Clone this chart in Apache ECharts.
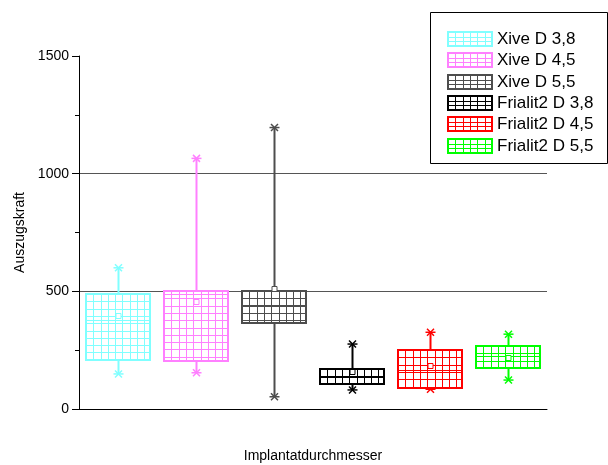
<!DOCTYPE html>
<html>
<head>
<meta charset="utf-8">
<script src="https://cdn.jsdelivr.net/npm/echarts@6/dist/echarts.min.js"></script>
<style>
  html, body { margin: 0; padding: 0; background: #fff; }
  #chart { width: 608px; height: 465px; }
</style>
</head>
<body>
<div id="chart"></div>
<script>
// Pull-out force per implant group (box plot statistics)
const categories = ['Xive D 3,8', 'Xive D 4,5', 'Xive D 5,5', 'Frialit2 D 3,8', 'Frialit2 D 4,5', 'Frialit2 D 5,5'];
const whiskerLow  = [149, 154, 52, 81, 84, 123];
const quartile1   = [208, 205, 366, 105, 90, 175];
const medians     = [380, 487, 442, 137, 166, 226];
const quartile3   = [487, 501, 502, 169, 250, 267];
const whiskerHigh = [600, 1065, 1196, 276, 326, 318];
const means       = [395, 453, 512, 158, 184, 218];
const colors = ['#80ffff', '#ff80ff', '#4d4d4d', '#000000', '#ff0000', '#00ff00'];
const yTickValues = [0, 500, 1000, 1500];

const FONT = '"Liberation Sans", Arial, sans-serif';
const HATCH = 7.3;

function hatchLines(left, top, right, bottom, color, stepX, stepY) {
  const out = [];
  for (let x = left + stepX; x < right - 1.5; x += stepX) {
    const xx = Math.round(x) + 0.5;
    out.push({ type: 'line', shape: { x1: xx, y1: top, x2: xx, y2: bottom },
      style: { stroke: color, lineWidth: 1 } });
  }
  for (let y = top + stepY; y < bottom - 1.5; y += stepY) {
    const yy = Math.round(y) + 0.5;
    out.push({ type: 'line', shape: { x1: left, y1: yy, x2: right, y2: yy },
      style: { stroke: color, lineWidth: 1 } });
  }
  return out;
}

function asterisk(x, y, color) {
  return {
    type: 'group',
    children: [
      { type: 'line', shape: { x1: x - 5, y1: y, x2: x + 5, y2: y }, style: { stroke: color, lineWidth: 1.5 } },
      { type: 'line', shape: { x1: x - 3.5, y1: y - 3.5, x2: x + 3.5, y2: y + 3.5 }, style: { stroke: color, lineWidth: 1.5 } },
      { type: 'line', shape: { x1: x - 3.5, y1: y + 3.5, x2: x + 3.5, y2: y - 3.5 }, style: { stroke: color, lineWidth: 1.5 } }
    ]
  };
}

function renderBox(params, api) {
  const i = api.value(0);
  const color = colors[i];
  const xc = api.coord([i, 0])[0];
  const bw = api.size([1, 0])[0] * 0.81;
  const left = Math.round(xc - bw / 2);
  const right = Math.round(xc + bw / 2);
  const cx = Math.round(xc) + 0.5;
  const yWLo = api.coord([i, api.value(1)])[1];
  const yQ1 = Math.round(api.coord([i, api.value(2)])[1]);
  const yMed = Math.round(api.coord([i, api.value(3)])[1]) + 0.5;
  const yQ3 = Math.round(api.coord([i, api.value(4)])[1]);
  const yWHi = api.coord([i, api.value(5)])[1];
  const yMean = api.coord([i, api.value(6)])[1];

  const children = [];
  // whiskers
  children.push({ type: 'line', shape: { x1: cx, y1: yQ3, x2: cx, y2: yWHi }, style: { stroke: color, lineWidth: 2 } });
  children.push({ type: 'line', shape: { x1: cx, y1: yQ1, x2: cx, y2: yWLo }, style: { stroke: color, lineWidth: 2 } });
  children.push(asterisk(cx, yWHi, color));
  children.push(asterisk(cx, yWLo, color));
  // box fill with grid hatch
  children.push({ type: 'rect', shape: { x: left, y: yQ3, width: right - left, height: yQ1 - yQ3 },
    style: { fill: '#fff' } });
  hatchLines(left, yQ3, right, yQ1, color, HATCH, HATCH).forEach(function (l) { children.push(l); });
  // median
  children.push({ type: 'line', shape: { x1: left, y1: yMed, x2: right, y2: yMed }, style: { stroke: color, lineWidth: 1 } });
  // box outline
  children.push({ type: 'rect', shape: { x: left, y: yQ3, width: right - left, height: yQ1 - yQ3 },
    style: { fill: null, stroke: color, lineWidth: 2 } });
  // mean marker
  children.push({ type: 'rect', shape: { x: cx - 2.5, y: Math.round(yMean) - 2.5, width: 5, height: 5 },
    style: { fill: '#fff', stroke: color, lineWidth: 1 } });
  return { type: 'group', children: children };
}

// legend drawn as a framed block of hatched swatches
const legendChildren = [
  { type: 'rect', shape: { x: 430.5, y: 12.5, width: 177, height: 151 },
    style: { fill: '#fff', stroke: '#000', lineWidth: 1 } }
];
categories.forEach(function (name, i) {
  const top = 32 + i * 21.3;
  const sx = 448, sw = 44, sh = 14;
  const t = Math.round(top);
  legendChildren.push({ type: 'rect', shape: { x: sx, y: t, width: sw, height: sh }, style: { fill: '#fff' } });
  hatchLines(sx, t, sx + sw, t + sh, colors[i], HATCH, sh / 3).forEach(function (l) { legendChildren.push(l); });
  legendChildren.push({ type: 'rect', shape: { x: sx, y: t, width: sw, height: sh },
    style: { fill: null, stroke: colors[i], lineWidth: 2 } });
  legendChildren.push({ type: 'text', x: 497, y: t + sh / 2 + 0.5,
    style: { text: name, font: '17px ' + FONT, fill: '#000', verticalAlign: 'middle', align: 'left' } });
});

const chart = echarts.init(document.getElementById('chart'), null, { renderer: 'canvas' });
chart.setOption({
  animation: false,
  backgroundColor: '#fff',
  grid: { left: 79, right: 61, top: 56, bottom: 56, containLabel: false, outerBoundsMode: 'none' },
  xAxis: {
    type: 'category',
    data: categories,
    boundaryGap: true,
    name: 'Implantatdurchmesser',
    nameLocation: 'middle',
    nameGap: 47,
    nameTextStyle: { fontFamily: FONT, fontSize: 14, color: '#000', verticalAlign: 'middle' },
    axisLine: { lineStyle: { color: '#000', width: 1 } },
    axisTick: { alignWithLabel: true, length: 7, lineStyle: { color: '#000' } },
    axisLabel: { show: false },
    splitLine: { show: false }
  },
  yAxis: {
    type: 'value',
    min: yTickValues[0],
    max: yTickValues[yTickValues.length - 1],
    interval: 500,
    name: 'Auszugskraft',
    nameLocation: 'middle',
    nameGap: 50,
    nameTextStyle: { fontFamily: FONT, fontSize: 14, color: '#000' },
    axisLine: { show: true, lineStyle: { color: '#000', width: 1 } },
    axisTick: { show: true, length: 7, lineStyle: { color: '#000' } },
    minorTick: { show: true, splitNumber: 2, length: 4, lineStyle: { color: '#000' } },
    axisLabel: { fontFamily: FONT, fontSize: 14, color: '#000', margin: 10,
      formatter: function (v) { return String(v); } },
    splitLine: { show: true, lineStyle: { color: ['transparent', '#555', '#555', 'transparent'], width: 1 } }
  },
  series: [{
    type: 'custom',
    name: 'Auszugskraft',
    renderItem: renderBox,
    encode: { x: 0, y: [1, 2, 3, 4, 5, 6] },
    data: categories.map(function (c, i) {
      return [i, whiskerLow[i], quartile1[i], medians[i], quartile3[i], whiskerHigh[i], means[i]];
    })
  }],
  graphic: [{ type: 'group', children: legendChildren, z: 100 }]
});
</script>
</body>
</html>
